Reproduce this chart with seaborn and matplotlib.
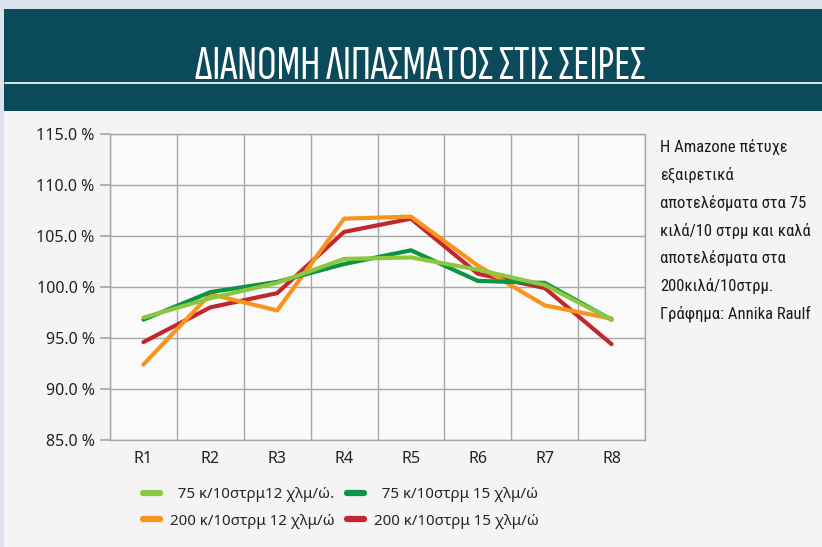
import numpy as np
import pandas as pd
import seaborn as sns
import matplotlib.pyplot as plt
from matplotlib.patches import Rectangle
from matplotlib.lines import Line2D

# data
rows = ["R1", "R2", "R3", "R4", "R5", "R6", "R7", "R8"]
s75_12 = [97.0, 98.9, 100.4, 102.75, 102.9, 101.7, 100.2, 96.8]
s75_15 = [96.8, 99.5, 100.5, 102.25, 103.6, 100.6, 100.4, 96.8]
s200_12 = [92.4, 99.3, 97.7, 106.7, 106.9, 102.1, 98.2, 96.9]
s200_15 = [94.6, 98.0, 99.4, 105.4, 106.7, 101.3, 99.9, 94.4]

names = ["  75 κ/10στρμ12 χλμ/ώ.", "  75 κ/10στρμ 15 χλμ/ώ",
         "200 κ/10στρμ 12 χλμ/ώ", "200 κ/10στρμ 15 χλμ/ώ"]
colors = ["#8dc63f", "#0b9444", "#f7941d", "#c1272d"]

title = "ΔΙΑΝΟΜΗ ΛΙΠΑΣΜΑΤΟΣ ΣΤΙΣ ΣΕΙΡΕΣ"
note = ("Η Amazone πέτυχε\nεξαιρετικά\nαποτελέσματα στα 75\n"
        "κιλά/10 στρμ και καλά\nαποτελέσματα στα\n200κιλά/10στρμ.\n"
        "Γράφημα: Annika Raulf")

df = pd.DataFrame({
    "row": rows * 4,
    "x": list(range(len(rows))) * 4,
    "val": s75_12 + s75_15 + s200_12 + s200_15,
    "series": sum([[n] * len(rows) for n in names], []),
})

sns.set_theme(style="white")
plt.rcParams["font.family"] = ["Noto Sans", "DejaVu Sans"]
cond = ["Roboto Condensed", "Fira Sans Condensed", "Open Sans", "DejaVu Sans"]
xcond = ["Sofia Sans Extra Condensed", "Roboto Condensed", "DejaVu Sans"]

fig = plt.figure(figsize=(8.22, 5.47), dpi=100)
fig.patch.set_facecolor("#f4f4f4")

# header banner
fig.patches.append(Rectangle((0, 1 - 9 / 547), 1, 9 / 547, transform=fig.transFigure,
                             facecolor="#dde3ec", edgecolor="none", zorder=0))
fig.patches.append(Rectangle((0, 0), 4 / 822, 1, transform=fig.transFigure,
                             facecolor="#dde3ec", edgecolor="none", zorder=0))
fig.patches.append(Rectangle((4 / 822, 1 - 111 / 547), 1, 102 / 547, transform=fig.transFigure,
                             facecolor="#0b4a5a", edgecolor="none", zorder=1))
fig.lines.append(Line2D([5 / 822, 1], [1 - 83 / 547] * 2, transform=fig.transFigure,
                        color="white", lw=1.2, zorder=2))
fig.text(420 / 822, 1 - 79 / 547, title, color="white", ha="center", va="baseline",
         fontsize=35, family=xcond, zorder=3)

ax = fig.add_axes([110 / 822, 1 - 440 / 547, 535 / 822, 306 / 547])
ax.set_facecolor("#fafafa")

order = [3, 2, 1, 0]
for i in order:
    sub = df[df["series"] == names[i]]
    sns.lineplot(data=sub, x="x", y="val", color=colors[i], lw=3.0, ax=ax,
                 solid_capstyle="round", legend=False, zorder=3)

ax.set_xlim(-0.5, len(rows) - 0.5)
ax.set_ylim(85, 115)
ax.set_xticks(range(len(rows)))
ax.set_xticklabels(rows)
ax.set_xticks(np.arange(-0.5, len(rows), 1), minor=True)
ax.set_yticks(np.arange(85, 115.1, 5))
ax.set_yticklabels([f"{v:.1f} %" for v in np.arange(85, 115.1, 5)])
ax.grid(True, which="minor", axis="x", color="#a7a7a9", lw=1)
ax.grid(True, which="major", axis="y", color="#a7a7a9", lw=1)
ax.set_xlabel("")
ax.set_ylabel("")
for s in ax.spines.values():
    s.set_color("#a7a7a9")
    s.set_linewidth(1)
ax.tick_params(axis="y", which="major", left=True, length=7, color="#a7a7a9",
               labelsize=11.5, labelcolor="#222222", pad=4)
ax.tick_params(axis="x", which="both", bottom=False, labelsize=11.5,
               labelcolor="#222222", pad=2)

handles = [Line2D([], [], color=c, lw=4.5, solid_capstyle="round") for c in colors]
leg_order = [0, 2, 1, 3]
fig.legend([handles[i] for i in leg_order], [names[i] for i in leg_order],
           ncol=2, loc="center", bbox_to_anchor=(341 / 822, 1 - 508 / 547),
           frameon=False, fontsize=10.9, handlelength=1.1, columnspacing=0.8,
           handletextpad=0.7, labelspacing=0.75)

fig.text(660 / 822, 1 - 139 / 547, note, ha="left", va="top", fontsize=12,
         linespacing=1.9, color="#1a1a1a", family=cond)

fig.savefig("out.png", dpi=100, facecolor=fig.get_facecolor())
